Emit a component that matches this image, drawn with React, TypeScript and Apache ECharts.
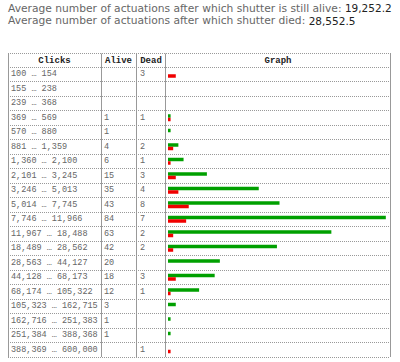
import React, { useEffect, useRef } from "react";
import * as echarts from "echarts";

const ranges = [
  "100 … 154", "155 … 238", "239 … 368", "369 … 569", "570 … 880",
  "881 … 1,359", "1,360 … 2,100", "2,101 … 3,245", "3,246 … 5,013", "5,014 … 7,745",
  "7,746 … 11,966", "11,967 … 18,488", "18,489 … 28,562", "28,563 … 44,127", "44,128 … 68,173",
  "68,174 … 105,322", "105,323 … 162,715", "162,716 … 251,383", "251,384 … 388,368", "388,369 … 600,000",
];
const alive = [0, 0, 0, 1, 1, 4, 6, 15, 35, 43, 84, 63, 42, 20, 18, 12, 3, 1, 1, 0];
const dead = [3, 0, 0, 1, 0, 2, 1, 3, 4, 8, 7, 2, 2, 0, 3, 1, 0, 0, 0, 1];
const avgAlive = "19,252.2";
const avgDead = "28,552.5";
const headers = ["Clicks", "Alive", "Dead", "Graph"];

const MONO = "'Liberation Mono', 'DejaVu Sans Mono', monospace";
const SANS = "'DejaVu Sans', Verdana, sans-serif";

export default function App() {
  const ref = useRef<HTMLDivElement>(null);
  useEffect(() => {
    if (!ref.current) return;
    const chart = echarts.init(ref.current, undefined, { renderer: "svg" });
    const labelBase = {
      interval: 0,
      align: "left" as const,
      fontFamily: MONO,
      fontSize: 8.5,
      color: "#666",
    };
    const hidden = { axisLine: { show: false }, axisTick: { show: false }, splitLine: { show: false } };
    const top = 53.5, bottom = 357;
    const vx = [8.5, 101.5, 136.5, 165.5, 390.5];
    const headerX = [54.5, 118.5, 151, 278];
    const rich = {
      a: { fontFamily: SANS, fontSize: 10.7, fill: "#666" },
      b: { fontFamily: SANS, fontSize: 10.5, fill: "#222" },
    };
    const option: any = {
      animation: false,
      backgroundColor: "#fff",
      grid: [
        { left: 168, right: 9, top: 67, bottom: 5, outerBoundsMode: "none", containLabel: false },
        { left: 8, right: 10, top: 67, bottom: 5, outerBoundsMode: "none", containLabel: false },
      ],
      xAxis: [
        { gridIndex: 0, type: "value", min: 0, max: 86, show: false },
        { gridIndex: 1, type: "value", min: 0, max: 1, show: false },
      ],
      yAxis: [
        {
          gridIndex: 0, type: "category", position: "left", offset: 0, inverse: true, data: ranges, ...hidden,
          axisLabel: { ...labelBase, margin: 28, formatter: (_v: string, i: number) => (dead[i] ? String(dead[i]) : "") },
        },
        {
          gridIndex: 0, type: "category", position: "left", offset: 0, inverse: true, data: ranges, ...hidden,
          axisLabel: { ...labelBase, margin: 64, formatter: (_v: string, i: number) => (alive[i] ? String(alive[i]) : "") },
        },
        {
          gridIndex: 0, type: "category", position: "left", offset: 0, inverse: true, data: ranges, ...hidden,
          axisLabel: { ...labelBase, margin: 157 },
        },
        {
          gridIndex: 1, type: "category", position: "left", inverse: true, data: ranges,
          axisLine: { show: false }, axisTick: { show: false }, axisLabel: { show: false },
          splitLine: { show: true, interval: 0, lineStyle: { type: [1, 1], color: "#999", width: 1 } },
        },
      ],
      series: [
        {
          type: "bar", xAxisIndex: 0, yAxisIndex: 0, data: alive,
          barWidth: 3.5, barGap: "0%", itemStyle: { color: "#00A000" },
        },
        {
          type: "bar", xAxisIndex: 0, yAxisIndex: 0, data: dead,
          barWidth: 3.5, barGap: "0%", itemStyle: { color: "#F00000" },
        },
      ],
      graphic: [
        {
          type: "text", x: 8, y: 8,
          style: {
            text: "{a|Average number of actuations after which shutter is still alive: }{b|" + avgAlive + "}",
            rich, verticalAlign: "middle",
          },
        },
        {
          type: "text", x: 8, y: 20.5,
          style: {
            text: "{a|Average number of actuations after which shutter died: }{b|" + avgDead + "}",
            rich, verticalAlign: "middle",
          },
        },
        {
          type: "line", shape: { x1: 8, y1: top, x2: 391, y2: top },
          style: { stroke: "#999", lineWidth: 1, lineDash: [1, 1] },
        },
        ...vx.map((x) => ({
          type: "line", shape: { x1: x, y1: top, x2: x, y2: bottom },
          style: { stroke: "#999", lineWidth: 1 },
        })),
        ...headers.map((h, i) => ({
          type: "text", x: headerX[i], y: 60.5,
          style: {
            text: h, fontFamily: MONO, fontSize: 9, fontWeight: "bold", fill: "#222",
            align: "center", verticalAlign: "middle",
          },
        })),
      ],
    };
    chart.setOption(option);
    return () => chart.dispose();
  }, []);
  return (
    <div
      ref={ref}
      style={{ position: "fixed", left: 0, top: 0, width: 400, height: 362 }}
    />
  );
}
